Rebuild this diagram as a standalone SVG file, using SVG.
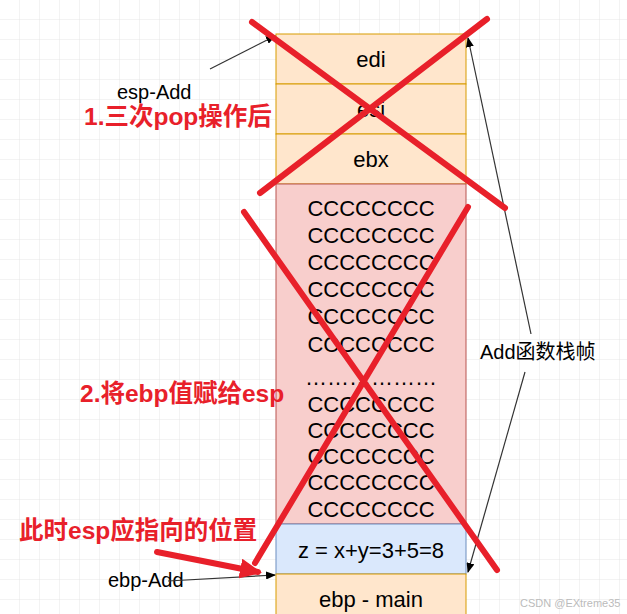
<svg xmlns="http://www.w3.org/2000/svg" width="627" height="614" viewBox="0 0 627 614">
<style>
text{font-family:"Liberation Sans",Arial,"Noto Sans CJK SC",sans-serif}
.t{font-size:22px;fill:#000;text-anchor:middle}
.l{font-size:20px;fill:#000}
.r{font-size:24.5px;font-weight:bold;fill:#e8202a}
.x{stroke:#e8202a;stroke-width:6;stroke-linecap:round;fill:none}
.a{stroke:#333;stroke-width:1.2;fill:none;marker-end:url(#ah)}
</style>
<defs>
<pattern id="g" width="20" height="20" patternUnits="userSpaceOnUse"><path d="M20 0V20H0" fill="none" stroke="#e6e6e6" stroke-width="1"/></pattern>
<marker id="ah" markerWidth="10" markerHeight="8" refX="9" refY="4" orient="auto" markerUnits="userSpaceOnUse"><path d="M0 0L10 4L0 8z" fill="#000"/></marker>
<marker id="rh" markerWidth="22" markerHeight="20" refX="18" refY="10" orient="auto" markerUnits="userSpaceOnUse"><path d="M0 0L22 10L0 20z" fill="#e8202a"/></marker>
</defs>
<rect width="627" height="614" fill="#fff"/>
<rect width="627" height="614" fill="url(#g)"/>
<g id="edi"><rect x="276" y="34" width="190" height="50" fill="#ffe6cc" stroke="#d79b00"/><text class="t" x="371" y="67">edi</text></g>
<g id="esi"><rect x="276" y="84" width="190" height="50" fill="#ffe6cc" stroke="#d79b00"/><text class="t" x="371" y="117">esi</text></g>
<g id="ebx"><rect x="276" y="134" width="190" height="50" fill="#ffe6cc" stroke="#d79b00"/><text class="t" x="371" y="167">ebx</text></g>
<g id="locals"><rect x="276" y="184" width="190" height="340" fill="#f8cecc" stroke="#b85450"/>
<text class="t" x="371" y="216">CCCCCCCC</text><text class="t" x="371" y="243">CCCCCCCC</text><text class="t" x="371" y="270">CCCCCCCC</text><text class="t" x="371" y="297">CCCCCCCC</text><text class="t" x="371" y="324">CCCCCCCC</text><text class="t" x="371" y="352">CCCCCCCC</text><text class="t" x="371" y="385">………………</text><text class="t" x="371" y="412">CCCCCCCC</text><text class="t" x="371" y="438">CCCCCCCC</text><text class="t" x="371" y="464">CCCCCCCC</text><text class="t" x="371" y="490">CCCCCCCC</text><text class="t" x="371" y="517">CCCCCCCC</text></g>
<g id="z"><rect x="276" y="524" width="190" height="50" fill="#dae8fc" stroke="#6c8ebf"/><text class="t" x="371" y="558">z = x+y=3+5=8</text></g>
<g id="ebpmain"><rect x="276" y="574" width="190" height="50" fill="#ffe6cc" stroke="#d79b00"/><text class="t" x="371" y="607">ebp - main</text></g>
<g id="labels">
<text class="l" x="117" y="99">esp-Add</text>
<text class="l" x="108" y="587">ebp-Add</text>
<text class="l" x="480" y="359">Add函数栈帧</text>
<text class="r" x="84" y="125">1.三次pop操作后</text>
<text class="r" x="80" y="402">2.将ebp值赋给esp</text>
<text class="r" x="19" y="539">此时esp应指向的位置</text>
<text x="520" y="607" font-size="11" fill="#bbb">CSDN @EXtreme35</text>
</g>
<g id="connectors">
<path class="a" d="M210 69L275 36"/>
<path class="a" d="M168 581L275 575"/>
<path class="a" d="M531 334L468 38"/>
<path class="a" d="M525 372L468 572"/>
<path class="x" d="M252 22L505 208M487 19L260 193"/>
<path class="x" d="M244 212L497 570M468 207L255 563"/>
<path class="x" d="M157 552L258 572" marker-end="url(#rh)"/>
</g>
</svg>
